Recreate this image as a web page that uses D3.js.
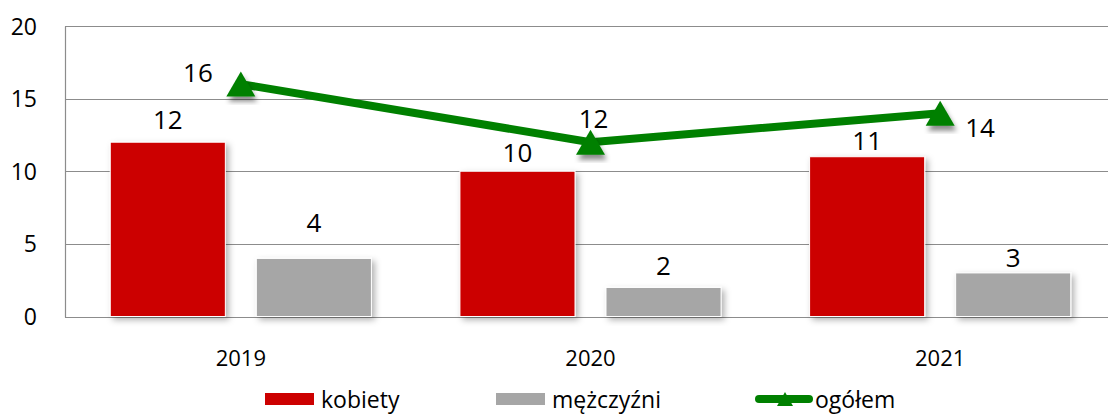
<!DOCTYPE html>
<html>
<head>
<meta charset="utf-8">
<script src="https://cdn.jsdelivr.net/npm/d3@7"></script>
<style>
  html, body { margin: 0; padding: 0; background: #fff; }
  svg { display: block; font-family: "Open Sans", "Noto Sans", sans-serif; }
</style>
</head>
<body>
<svg id="chart" width="1108" height="417"></svg>
<script>
// Years on the x axis
const years = ["2019", "2020", "2021"];
// Bar series
const kobiety = [12, 10, 11];
const mezczyzni = [4, 2, 3];
// Line series (total)
const ogolem = [16, 12, 14];
// Y axis ticks
const yTicks = [0, 5, 10, 15, 20];
// Series names shown in the legend
const seriesNames = ["kobiety", "mężczyźni", "ogółem"];
// Where each total label sits relative to its marker
const totalLabelSide = ["left", "above", "right"];
// Gap (px) between each bar top and its value label
const kobietyLabelGap = [13, 9, 7];
const mezczyzniLabelGap = [26, 12, 6];

const colors = { kobiety: "#cc0000", mezczyzni: "#a6a6a6", ogolem: "#008000" };

const svg = d3.select("#chart");
const margin = { left: 66, right: -7, top: 26, bottom: 101 };
const W = 1108, H = 417;

const y = d3.scaleLinear().domain([0, 20]).range([H - margin.bottom + 0.5, margin.top]);
const x = d3.scaleBand().domain(years).range([margin.left, W - margin.right]).padding(0);
const xs = d3.scaleBand().domain(["k", "m"]).range([0, x.bandwidth()])
  .paddingInner(0.212).paddingOuter(0.303);

// Soft drop shadows
const defs = svg.append("defs");
function shadow(id, dx, dy, sd, op) {
  const f = defs.append("filter").attr("id", id)
    .attr("x", "-30%").attr("y", "-30%").attr("width", "160%").attr("height", "160%");
  f.append("feDropShadow").attr("dx", dx).attr("dy", dy)
    .attr("stdDeviation", sd).attr("flood-color", "#000").attr("flood-opacity", op);
}
shadow("barShadow", 3, 3, 3, 0.3);
shadow("markShadow", 2, 5, 2.5, 0.45);

// Gridlines and axes
const grid = svg.append("g");
grid.selectAll("line.grid").data(yTicks).join("line")
  .attr("x1", margin.left - 1).attr("x2", W)
  .attr("y1", d => Math.round(y(d)) + 0.5).attr("y2", d => Math.round(y(d)) + 0.5)
  .attr("stroke", "#8c8c8c").attr("stroke-width", 1.2);
grid.append("line")
  .attr("x1", margin.left - 0.5).attr("x2", margin.left - 0.5)
  .attr("y1", Math.round(y(20)) + 0.5).attr("y2", Math.round(y(0)) + 0.5)
  .attr("stroke", "#8c8c8c").attr("stroke-width", 1.2);

const yAxis = d3.axisLeft(y).tickValues(yTicks).tickSize(0).tickPadding(0);
const gy = svg.append("g").attr("transform", "translate(37,0)").call(yAxis);
gy.select(".domain").remove();
gy.selectAll("text").attr("font-size", 23).attr("fill", "#000")
  .attr("font-family", "'Open Sans', sans-serif").attr("dy", "0.35em");

const xAxis = d3.axisBottom(x).tickSize(0).tickPadding(0);
const gx = svg.append("g").attr("transform", `translate(0,${y(0) + 34})`).call(xAxis);
gx.select(".domain").remove();
gx.selectAll("text").attr("font-size", 22).attr("fill", "#000")
  .attr("font-family", "'Open Sans', sans-serif");

// Bars
const bars = svg.append("g");
years.forEach((yr, i) => {
  [["k", kobiety[i], colors.kobiety, kobietyLabelGap[i]],
   ["m", mezczyzni[i], colors.mezczyzni, mezczyzniLabelGap[i]]].forEach(([key, v, c, gap]) => {
    const bx = x(yr) + xs(key);
    bars.append("rect")
      .attr("x", bx).attr("y", y(v))
      .attr("width", xs.bandwidth()).attr("height", y(0) - y(v))
      .attr("fill", c).attr("stroke", "#fff").attr("stroke-width", 1)
      .attr("filter", "url(#barShadow)");
    bars.append("text")
      .attr("x", bx + xs.bandwidth() / 2).attr("y", y(v) - gap)
      .attr("text-anchor", "middle").attr("font-size", 26).attr("fill", "#000")
      .text(v);
  });
});

// Total line with triangle markers
const cx = d => x(d) + x.bandwidth() / 2;
const line = d3.line().x((d, i) => cx(years[i])).y(d => y(d));
svg.append("path").datum(ogolem)
  .attr("d", line).attr("fill", "none")
  .attr("stroke", colors.ogolem).attr("stroke-width", 8).attr("stroke-linejoin", "round");

const tri = (w, h) => `M0,${-h * 0.5}L${w / 2},${h * 0.5}L${-w / 2},${h * 0.5}Z`;
svg.append("g").selectAll("path").data(ogolem).join("path")
  .attr("transform", (d, i) => `translate(${cx(years[i])},${y(d)})`)
  .attr("d", tri(29, 25)).attr("fill", colors.ogolem)
  .attr("filter", "url(#markShadow)");

svg.append("g").selectAll("text").data(ogolem).join("text")
  .attr("font-size", 26).attr("fill", "#000")
  .each(function (d, i) {
    const px = cx(years[i]), py = y(d);
    const t = d3.select(this).text(d);
    const side = totalLabelSide[i];
    if (side === "left") t.attr("x", px - 28).attr("y", py - 2).attr("text-anchor", "end");
    else if (side === "above") t.attr("x", px + 3).attr("y", py - 14).attr("text-anchor", "middle");
    else t.attr("x", px + 25).attr("y", py + 24).attr("text-anchor", "start");
  });

// Legend
const lg = svg.append("g").attr("font-size", 23).attr("fill", "#000");
const legendY = 399;
lg.append("rect").attr("x", 265).attr("y", legendY - 6).attr("width", 49).attr("height", 12).attr("fill", colors.kobiety);
lg.append("text").attr("x", 321).attr("y", legendY + 9).text(seriesNames[0]);
lg.append("rect").attr("x", 496).attr("y", legendY - 6).attr("width", 49).attr("height", 12).attr("fill", colors.mezczyzni);
lg.append("text").attr("x", 552).attr("y", legendY + 9).text(seriesNames[1]);
lg.append("line").attr("x1", 759).attr("x2", 809).attr("y1", legendY).attr("y2", legendY)
  .attr("stroke", colors.ogolem).attr("stroke-width", 8).attr("stroke-linecap", "round");
lg.append("path").attr("transform", `translate(785,${legendY})`).attr("d", tri(16, 14)).attr("fill", colors.ogolem);
lg.append("text").attr("x", 815).attr("y", legendY + 9).text(seriesNames[2]);
</script>
</body>
</html>
